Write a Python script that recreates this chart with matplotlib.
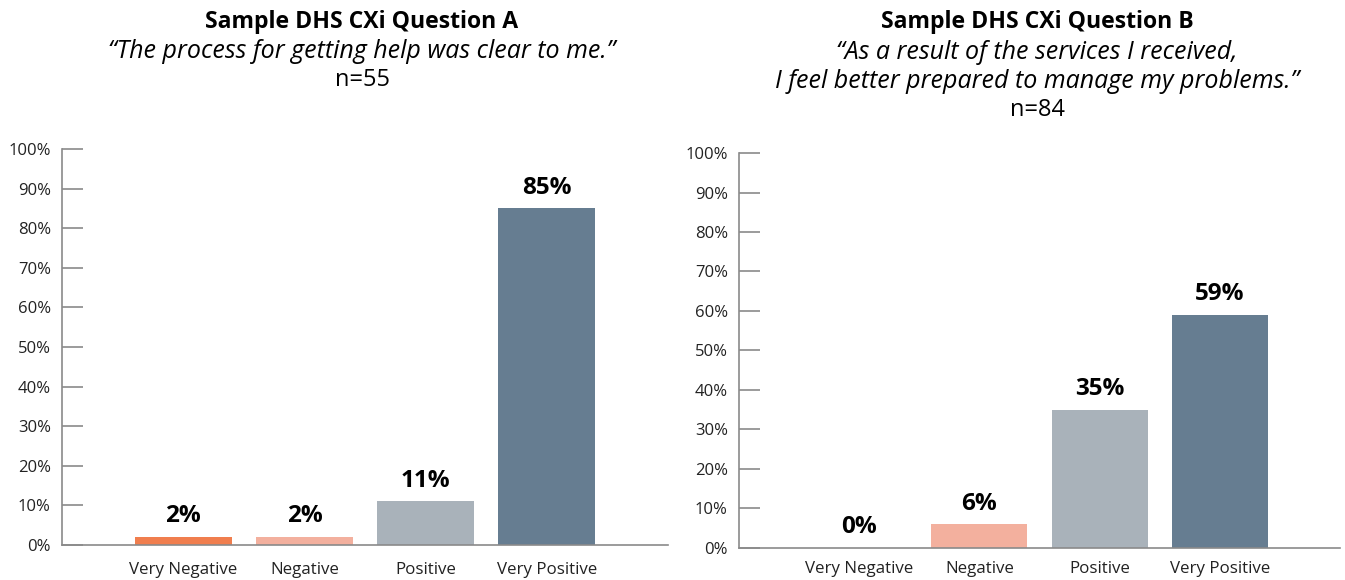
import matplotlib.pyplot as plt
import numpy as np

categories = ["Very Negative", "Negative", "Positive", "Very Positive"]
values_a = [2, 2, 11, 85]
values_b = [0, 6, 35, 59]
title_a = "Sample DHS CXi Question A"
quote_a = "\u201cThe process for getting help was clear to me.\u201d"
n_a = "n=55"
title_b = "Sample DHS CXi Question B"
quote_b = "\u201cAs a result of the services I received,\nI feel better prepared to manage my problems.\u201d"
n_b = "n=84"
colors = ["#F07E4E", "#F3B09E", "#A9B2BA", "#667D91"]

plt.rcParams['font.family'] = ['Open Sans', 'DejaVu Sans']

fig = plt.figure(figsize=(13.45, 5.8), dpi=100)
ax1 = fig.add_axes([0.0461, 0.0603, 0.4506, 0.6828])
ax2 = fig.add_axes([0.5494, 0.0552, 0.4469, 0.681])


def draw(ax, vals, xpad):
    x = np.arange(len(categories))
    ax.bar(x, vals, width=0.8, color=colors)
    for xi, v in zip(x, vals):
        ax.text(xi, v + 2.2, f"{v}%", ha="center", va="bottom",
                fontsize=17.5, fontweight="bold", color="black")
    ax.set_xlim(-1, 4)
    ax.set_ylim(0, 100)
    ax.set_xticks(x)
    ax.set_xticklabels(categories, fontsize=12.2, color="#222222")
    ax.set_yticks(np.arange(0, 101, 10))
    ax.set_yticklabels([f"{t}%" for t in range(0, 101, 10)], fontsize=12,
                       color="#222222")
    ax.tick_params(axis="y", direction="in", length=15, color="#8a8a8a",
                   width=1.2, pad=8)
    ax.tick_params(axis="x", length=0, pad=xpad)
    for s in ["top", "right"]:
        ax.spines[s].set_visible(False)
    for s in ["left", "bottom"]:
        ax.spines[s].set_color("#8a8a8a")
        ax.spines[s].set_linewidth(1.2)


draw(ax1, values_a, 12)
draw(ax2, values_b, 9.5)

# titles
fig.text(362 / 1345, 1 - 22 / 580, title_a, ha="center", va="center",
         fontsize=16.6, fontweight="bold")
fig.text(362 / 1345, 1 - 52 / 580, quote_a, ha="center", va="center",
         fontsize=18, style="italic")
fig.text(362 / 1345, 1 - 80 / 580, n_a, ha="center", va="center", fontsize=17)

fig.text(1037 / 1345, 1 - 22 / 580, title_b, ha="center", va="center",
         fontsize=16.6, fontweight="bold")
fig.text(1037 / 1345, 1 - 67 / 580, quote_b, ha="center", va="center",
         fontsize=18, style="italic", linespacing=1.25)
fig.text(1037 / 1345, 1 - 110 / 580, n_b, ha="center", va="center", fontsize=17)

fig.savefig("out.png", dpi=100)
